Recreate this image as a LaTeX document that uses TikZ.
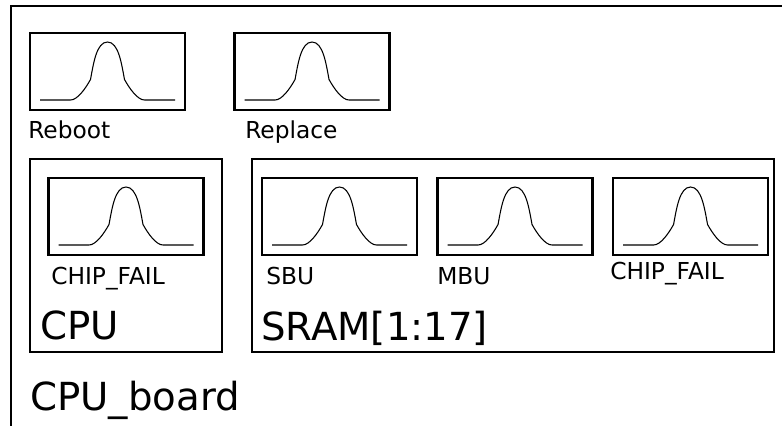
\documentclass[tikz,border=0pt]{standalone}
\usepackage{fontspec}
\setmainfont{DejaVu Sans}
\usetikzlibrary{positioning}

\begin{document}
\begin{tikzpicture}[x=0.75pt, y=-0.75pt,
      box/.style={rectangle, draw=black, line width=1.9pt, inner sep=0pt,
                  minimum width=116.25pt, minimum height=57.75pt},
      unitbox/.style={rectangle, draw=black, line width=1.6pt, inner sep=0pt},
      lbl/.style={anchor=base west, inner sep=0pt, font=\fontsize{17.5}{21}\selectfont},
      biglbl/.style={anchor=base west, inner sep=0pt, font=\fontsize{29}{35}\selectfont},
      bell/.pic={
        \draw[line width=0.8pt]
          (-67.5,28.5) -- (-37,28.5)
          .. controls (-30,28.5) and (-22,17) .. (-17,8)
          .. controls (-14,-8) and (-11,-29.5) .. (0,-29.5)
          .. controls (11,-29.5) and (14,-8) .. (17,8)
          .. controls (22,17) and (30,28.5) .. (37,28.5)
          -- (67.5,28.5);
      }
    ]
    \clip (0,0) rectangle (782,425);
    % board frame runs past the page edge
    \node[unitbox, anchor=north west, minimum width=592.5pt, minimum height=326pt] (board) at (10,5) {};

    % actions
    \node[box] (reboot) at (107.5,71.5) {};
    \node[box, right=35.25pt of reboot] (replace) {};
    \pic at (reboot.center) {bell};
    \pic at (replace.center) {bell};
    \node[lbl] (rebootlbl) at (28,138) {Reboot};
    \node[lbl] (replacelbl) at (245,138) {Replace};

    % CPU
    \node[unitbox, line width=1.9pt, minimum width=144pt, minimum height=144.75pt] (cpu) at (126,255.5) {};
    \node[box] (cpufail) at (126,216.5) {};
    \pic at (cpufail.center) {bell};
    \node[lbl] (cpufaillbl) at (51,284) {CHIP\_FAIL};
    \node[biglbl] (cpulbl) at (40,339) {CPU};

    % SRAM
    \node[unitbox, line width=1.9pt, minimum width=391.5pt, minimum height=144.75pt] (sram) at (513,255.5) {};
    \node[box] (sbu) at (339.5,216.5) {};
    \node[box, right=13.5pt of sbu] (mbu) {};
    \node[box, right=13.5pt of mbu] (sramfail) {};
    \pic at (sbu.center) {bell};
    \pic at (mbu.center) {bell};
    \pic at (sramfail.center) {bell};
    \node[lbl] (sbulbl) at (266,284) {SBU};
    \node[lbl] (mbulbl) at (437,284) {MBU};
    \node[lbl] (sramfaillbl) at (610,279) {CHIP\_FAIL};
    \node[biglbl] (sramlbl) at (261,340) {SRAM[1:17]};

    \node[biglbl] (boardlbl) at (30,410) {CPU\_board};
  \end{tikzpicture}
\end{document}
